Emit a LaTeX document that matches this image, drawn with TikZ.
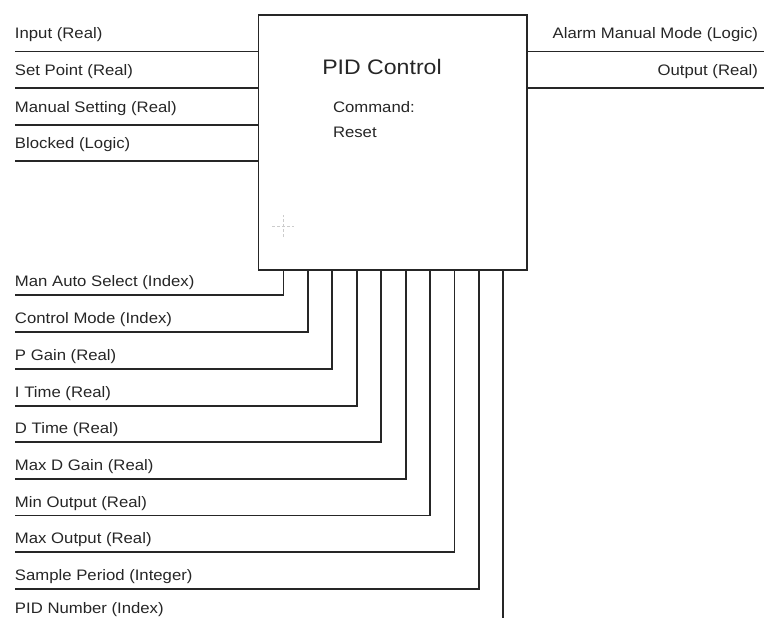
\documentclass[tikz,border=0pt]{standalone}
\usepackage{fontspec}
\setmainfont[FakeStretch=1.1]{Liberation Sans}
\begin{document}
\begin{tikzpicture}[x=1pt,y=-1pt,
  wire/.style={draw=black!85,line width=1.2pt},
  lbl/.style={inner sep=0pt,outer sep=0pt,text=black!85,font=\fontsize{15.2}{18}\selectfont},
  boxstyle/.style={draw=black!85,line width=1.2pt,fill=white,inner sep=0pt,outer sep=0pt}]
\useasboundingbox (0,0) rectangle (764,618);
\node[boxstyle,anchor=north west,minimum width=268.5pt,minimum height=255pt] (pid) at (258.5,15) {};
\node[lbl,font=\fontsize{21}{24}\selectfont] (title) at (382,67) {PID Control};
\node[lbl,anchor=base west] (cmd) at (333,113) {Command:};
\node[lbl,anchor=base west] (rst) at (333,137) {Reset};
% faint cross mark
\coordinate (cx) at (283,226);
\draw[black!20,line width=0.6pt,dash pattern=on 3pt off 2pt] ([xshift=-11pt]cx) -- ([xshift=11pt]cx);
\draw[black!20,line width=0.6pt,dash pattern=on 3pt off 2pt] ([yshift=-11pt]cx) -- ([yshift=11pt]cx);
% left inputs
\foreach \i/\y/\t in {1/51.5/Input (Real),2/88/Set Point (Real),3/125/Manual Setting (Real),4/161/Blocked (Logic)}{
  \coordinate (in\i) at (15,\y);
  \draw[wire] (in\i) -- (in\i -| pid.west);
  \node[lbl,anchor=base west] (inl\i) at (15,\y-12.5) {\t};
}
% right outputs
\foreach \i/\y/\t in {1/51.5/Alarm Manual Mode (Logic),2/88/Output (Real)}{
  \coordinate (out\i) at (764,\y);
  \draw[wire] (pid.east |- out\i) -- (out\i);
  \node[lbl,anchor=base east] (outl\i) at (758,\y-12.5) {\t};
}
% bottom inputs
\foreach \i/\x/\y/\t in {1/283.5/295/Man Auto Select (Index),2/308/332/Control Mode (Index),3/332/369/P Gain (Real),4/357/406/I Time (Real),5/381/442/D Time (Real),6/406/479/Max D Gain (Real),7/430/515.5/Min Output (Real),8/454.5/552/Max Output (Real),9/479/589/Sample Period (Integer)}{
  \coordinate (t\i) at (\x,270);
  \coordinate (e\i) at (15,\y);
  \draw[wire] (e\i) -| (t\i);
  \node[lbl,anchor=base west] (bl\i) at (15,\y-8.5) {\t};
}
\coordinate (t10) at (503,270);
\coordinate (e10) at (503,618);
\draw[wire] (t10) -- (e10);
\node[lbl,anchor=base west] (bl10) at (15,613) {PID Number (Index)};
\end{tikzpicture}
\end{document}
